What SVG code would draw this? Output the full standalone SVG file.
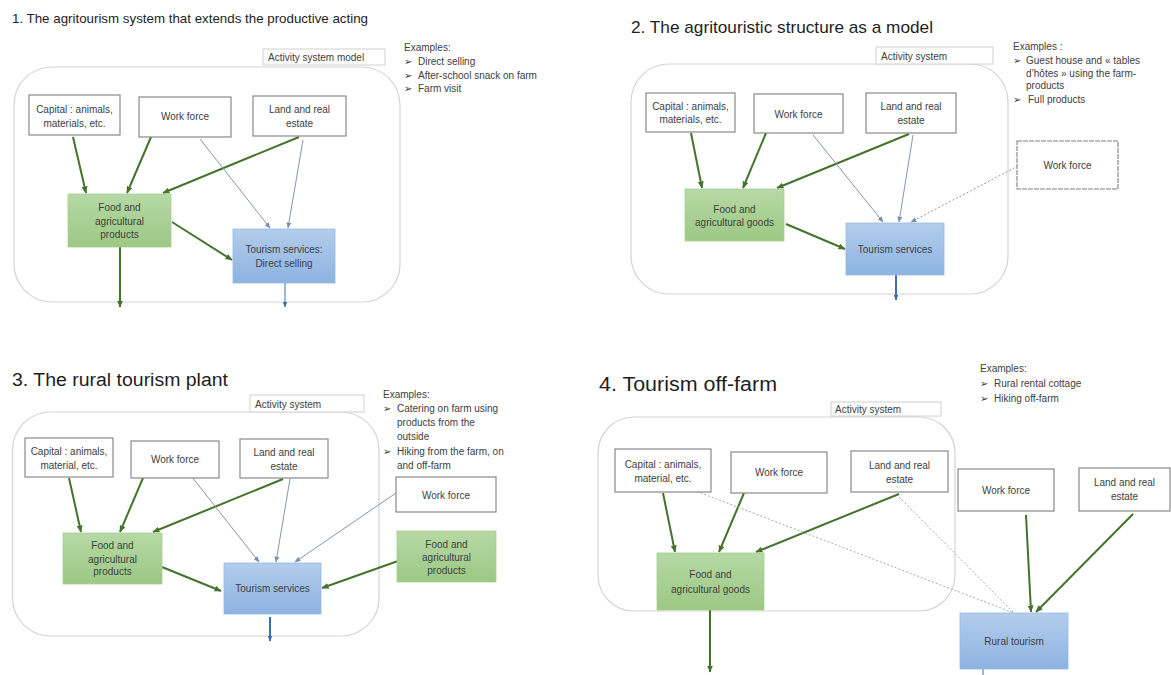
<svg xmlns="http://www.w3.org/2000/svg" width="1171" height="675" viewBox="0 0 1171 675">
<style>
text{font-family:"Liberation Sans","DejaVu Sans",Arial,sans-serif;fill:#404040}
.t{fill:#1e1e1e}
.bx{font-size:10px;text-anchor:middle}
.ex{font-size:10px}
.bu{font-family:"DejaVu Sans",sans-serif;fill:#333}
.act{font-size:10px}
.cont{fill:#fff;stroke:#d4d4d4;stroke-width:1.2}
.box{fill:#fff;stroke:#7f7f7f;stroke-width:1.1}
.abox{fill:#fff;stroke:#d0d0d0;stroke-width:1}
.gr{fill:url(#gG);stroke:#a6cf91;stroke-width:0.8}
.bl{fill:url(#gB);stroke:#94b8e3;stroke-width:0.8}
.ga{stroke:#44732c;stroke-width:2;fill:none;marker-end:url(#mG)}
.ta{stroke:#8595b0;stroke-width:1;fill:none;marker-end:url(#mT)}
.da{stroke:#8a9ab6;stroke-width:1;stroke-dasharray:2 2;fill:none}
.dg{stroke:#a8a8a8;stroke-width:1;stroke-dasharray:2 2;fill:none}
.ba{stroke:#3a6fb5;fill:none;marker-end:url(#mB)}
</style>
<defs>
<linearGradient id="gG" x1="0" y1="0" x2="0" y2="1"><stop offset="0" stop-color="#b6d9a5"/><stop offset="1" stop-color="#9cc884"/></linearGradient>
<linearGradient id="gB" x1="0" y1="0" x2="0" y2="1"><stop offset="0" stop-color="#b3cdec"/><stop offset="1" stop-color="#8db3e1"/></linearGradient>
<marker id="mG" markerUnits="userSpaceOnUse" markerWidth="7" markerHeight="6" refX="6.5" refY="3" orient="auto"><path d="M0,0 L7,3 L0,6 z" fill="#44732c"/></marker>
<marker id="mT" markerUnits="userSpaceOnUse" markerWidth="6" markerHeight="5" refX="5.5" refY="2.5" orient="auto"><path d="M0,0 L6,2.5 L0,5 z" fill="#7d8eab"/></marker>
<marker id="mB" markerUnits="userSpaceOnUse" markerWidth="6" markerHeight="5" refX="5.5" refY="2.5" orient="auto"><path d="M0,0 L6,2.5 L0,5 z" fill="#3a6fb5"/></marker>
</defs>
<rect width="1171" height="675" fill="#fff"/>

<!-- Panel titles and examples -->
<g id="p1-text">
<text class="t" x="12" y="23" font-size="13" textLength="356" lengthAdjust="spacingAndGlyphs">1. The agritourism system that extends the productive acting</text>
<text class="ex" x="404" y="51">Examples:</text>
<text class="ex bu" x="404" y="65">➢</text><text class="ex" x="418" y="65">Direct selling</text>
<text class="ex bu" x="404" y="78.5">➢</text><text class="ex" x="418" y="78.5">After-school snack on farm</text>
<text class="ex bu" x="404" y="92">➢</text><text class="ex" x="418" y="92">Farm visit</text>
</g>
<g id="p2-text">
<text class="t" x="631" y="33" font-size="17" textLength="302" lengthAdjust="spacingAndGlyphs">2. The agritouristic structure as a model</text>
<text class="ex" x="1013" y="49.5" font-size="9.5">Examples :</text>
<text class="ex bu" x="1013" y="63.5" font-size="9.5">➢</text><text class="ex" x="1026" y="63.5" font-size="9.5">Guest house and « tables</text>
<text class="ex" x="1026" y="76.5" font-size="9.5">d’hôtes » using the farm-</text>
<text class="ex" x="1026" y="89" font-size="9.5">products</text>
<text class="ex bu" x="1013" y="102.5" font-size="9.5">➢</text><text class="ex" x="1028" y="102.5" font-size="9.5">Full products</text>
</g>
<g id="p3-text">
<text class="t" x="12" y="386" font-size="18" textLength="216" lengthAdjust="spacingAndGlyphs">3. The rural tourism plant</text>
<text class="ex" x="383" y="397.5" font-size="10.5">Examples:</text>
<text class="ex bu" x="383" y="411.5" font-size="10.5">➢</text><text class="ex" x="397" y="411.5" font-size="10.5">Catering on farm using</text>
<text class="ex" x="397" y="426" font-size="10.5">products from the</text>
<text class="ex" x="397" y="440" font-size="10.5">outside</text>
<text class="ex bu" x="383" y="454.5" font-size="10.5">➢</text><text class="ex" x="397" y="454.5" font-size="10.5">Hiking from the farm, on</text>
<text class="ex" x="397" y="468.5" font-size="10.5">and off-farm</text>
</g>
<g id="p4-text">
<text class="t" x="599" y="391" font-size="20" textLength="178" lengthAdjust="spacingAndGlyphs">4. Tourism off-farm</text>
<text class="ex" x="980" y="372" font-size="11">Examples:</text>
<text class="ex bu" x="980" y="387" font-size="11">➢</text><text class="ex" x="994" y="387" font-size="11">Rural rental cottage</text>
<text class="ex bu" x="980" y="402" font-size="11">➢</text><text class="ex" x="994" y="402" font-size="11">Hiking off-farm</text>
</g>

<!-- Containers -->
<g id="containers">
<rect id="p1-container" class="cont" x="14" y="67" width="386" height="235" rx="38"/>
<rect id="p2-container" class="cont" x="631" y="64" width="377" height="230" rx="38"/>
<rect id="p3-container" class="cont" x="12.5" y="412" width="366.5" height="224" rx="38"/>
<rect id="p4-container" class="cont" x="598" y="417" width="357" height="194" rx="36"/>
</g>
<g id="activity-labels">
<g id="p1-activity"><rect class="abox" x="263" y="49" width="122" height="16"/><text class="act" x="268" y="61">Activity system model</text></g>
<g id="p2-activity"><rect class="abox" x="876" y="47" width="117" height="17"/><text class="act" x="881" y="60">Activity system</text></g>
<g id="p3-activity"><rect class="abox" x="250" y="395" width="114" height="17"/><text class="act" x="255" y="408">Activity system</text></g>
<g id="p4-activity"><rect class="abox" x="831" y="402" width="110" height="14"/><text class="act" x="835" y="413">Activity system</text></g>
</g>

<!-- Connectors -->
<g id="connectors">
<!-- panel 1 -->
<line class="ga" x1="73" y1="137" x2="86" y2="193"/>
<line class="ga" x1="151" y1="137" x2="127" y2="193"/>
<line class="ga" x1="299" y1="137" x2="163" y2="193"/>
<line class="ta" x1="200" y1="139" x2="270" y2="228"/>
<line class="ta" x1="303" y1="140" x2="288" y2="228"/>
<line class="ga" x1="172" y1="222" x2="232" y2="260"/>
<line class="ga" x1="120" y1="247" x2="120" y2="307" stroke-width="2.5"/>
<line class="ba" x1="285" y1="283" x2="285" y2="307" stroke-width="1"/>
<!-- panel 2 -->
<line class="ga" x1="691" y1="133" x2="702" y2="188"/>
<line class="ga" x1="766" y1="133" x2="743" y2="188"/>
<line class="ga" x1="909" y1="134" x2="777" y2="188"/>
<line class="ta" x1="813" y1="135" x2="883" y2="222"/>
<line class="ta" x1="913" y1="135" x2="899" y2="222"/>
<line class="da" x1="1018" y1="166" x2="911" y2="222" marker-end="url(#mT)"/>
<line class="ga" x1="786" y1="224" x2="845" y2="249"/>
<line class="ba" x1="896" y1="275" x2="896" y2="300" stroke-width="2"/>
<!-- panel 3 -->
<line class="ga" x1="69" y1="478" x2="81" y2="532"/>
<line class="ga" x1="143" y1="478" x2="120" y2="532"/>
<line class="ga" x1="283" y1="479" x2="153" y2="532"/>
<line class="ta" x1="192" y1="477" x2="259" y2="562"/>
<line class="ta" x1="290" y1="479" x2="276" y2="562"/>
<line class="ta" x1="396" y1="493" x2="295" y2="562"/>
<line class="ga" x1="162" y1="567" x2="221" y2="591"/>
<line class="ga" x1="398" y1="561" x2="322" y2="588"/>
<line class="ba" x1="270" y1="617" x2="270" y2="641" stroke-width="2" stroke="#2f5f99"/>
<!-- panel 4 -->
<line class="ga" x1="663" y1="493" x2="675" y2="552"/>
<line class="ga" x1="744" y1="493" x2="719" y2="552"/>
<line class="ga" x1="899" y1="494" x2="756" y2="552"/>
<line class="ga" x1="710" y1="610" x2="710" y2="672" stroke-width="2.5"/>
<line class="dg" x1="693" y1="490" x2="1014" y2="613"/>
<line class="dg" x1="899" y1="497" x2="1014" y2="613"/>
<line class="ga" x1="1026" y1="515" x2="1031" y2="612"/>
<line class="ga" x1="1133" y1="514" x2="1036" y2="612"/>
<line x1="983" y1="669" x2="983" y2="675" stroke="#3a6fb5" stroke-width="1"/>
</g>

<!-- Nodes panel 1 -->
<g id="p1-capital"><rect class="box" x="29" y="95" width="91" height="40"/><text class="bx" x="74.5" y="112.5">Capital : animals,</text><text class="bx" x="74.5" y="126.5">materials, etc.</text></g>
<g id="p1-workforce"><rect class="box" x="139" y="97" width="92" height="40"/><text class="bx" x="185" y="120">Work force</text></g>
<g id="p1-land"><rect class="box" x="253" y="96" width="93" height="40"/><text class="bx" x="299.5" y="113">Land and real</text><text class="bx" x="299.5" y="127">estate</text></g>
<g id="p1-food"><rect class="gr" x="68" y="194" width="103" height="53"/><text class="bx" x="119.5" y="211">Food and</text><text class="bx" x="119.5" y="224.5">agricultural</text><text class="bx" x="119.5" y="238">products</text></g>
<g id="p1-tourism"><rect class="bl" x="233" y="229" width="102" height="54"/><text class="bx" x="284" y="253">Tourism services:</text><text class="bx" x="284" y="266.5">Direct selling</text></g>

<!-- Nodes panel 2 -->
<g id="p2-capital"><rect class="box" x="646" y="93" width="89" height="39"/><text class="bx" x="690.5" y="109.5">Capital : animals,</text><text class="bx" x="690.5" y="122.5">materials, etc.</text></g>
<g id="p2-workforce"><rect class="box" x="754" y="94" width="89" height="39"/><text class="bx" x="798.5" y="117.5">Work force</text></g>
<g id="p2-land"><rect class="box" x="866" y="93" width="90" height="40"/><text class="bx" x="911" y="110">Land and real</text><text class="bx" x="911" y="123.5">estate</text></g>
<g id="p2-workforce-out"><rect class="box" x="1017" y="141" width="101" height="48" stroke="#9a9a9a" stroke-dasharray="5 1"/><text class="bx" x="1067.5" y="168.5">Work force</text></g>
<g id="p2-food"><rect class="gr" x="685" y="189" width="99" height="52"/><text class="bx" x="734.5" y="212.5">Food and</text><text class="bx" x="734.5" y="226">agricultural goods</text></g>
<g id="p2-tourism"><rect class="bl" x="846" y="223" width="98" height="52"/><text class="bx" x="895" y="253">Tourism services</text></g>

<!-- Nodes panel 3 -->
<g id="p3-capital"><rect class="box" x="25" y="438" width="88" height="39"/><text class="bx" x="69" y="455">Capital : animals,</text><text class="bx" x="69" y="468.5">material, etc.</text></g>
<g id="p3-workforce"><rect class="box" x="131" y="441" width="88" height="37"/><text class="bx" x="175" y="463">Work force</text></g>
<g id="p3-land"><rect class="box" x="240" y="439" width="88" height="39"/><text class="bx" x="284" y="456">Land and real</text><text class="bx" x="284" y="469.5">estate</text></g>
<g id="p3-workforce-out"><rect class="box" x="396" y="477" width="100" height="35"/><text class="bx" x="446" y="498.5">Work force</text></g>
<g id="p3-food"><rect class="gr" x="63" y="533" width="99" height="51"/><text class="bx" x="112.5" y="549">Food and</text><text class="bx" x="112.5" y="562.5">agricultural</text><text class="bx" x="112.5" y="575">products</text></g>
<g id="p3-food-out"><rect class="gr" x="397" y="531" width="99" height="51"/><text class="bx" x="446.5" y="547.5">Food and</text><text class="bx" x="446.5" y="561">agricultural</text><text class="bx" x="446.5" y="573.5">products</text></g>
<g id="p3-tourism"><rect class="bl" x="224" y="563" width="97" height="51"/><text class="bx" x="272.5" y="592">Tourism services</text></g>

<!-- Nodes panel 4 -->
<g id="p4-capital"><rect class="box" x="615" y="449" width="96" height="43"/><text class="bx" x="663" y="467.5">Capital : animals,</text><text class="bx" x="663" y="482">material, etc.</text></g>
<g id="p4-workforce"><rect class="box" x="731" y="452" width="96" height="41"/><text class="bx" x="779" y="476">Work force</text></g>
<g id="p4-land"><rect class="box" x="851" y="451" width="97" height="41"/><text class="bx" x="899.5" y="468.5">Land and real</text><text class="bx" x="899.5" y="482.5">estate</text></g>
<g id="p4-workforce-out"><rect class="box" x="958" y="469" width="96" height="42"/><text class="bx" x="1006" y="493.5">Work force</text></g>
<g id="p4-land-out"><rect class="box" x="1079" y="468" width="91" height="43"/><text class="bx" x="1124.5" y="486">Land and real</text><text class="bx" x="1124.5" y="500">estate</text></g>
<g id="p4-food"><rect class="gr" x="657" y="553" width="107" height="57"/><text class="bx" x="710.5" y="578">Food and</text><text class="bx" x="710.5" y="592.5">agricultural goods</text></g>
<g id="p4-rural"><rect class="bl" x="960" y="613" width="108" height="56"/><text class="bx" x="1014" y="644.5">Rural tourism</text></g>
</svg>
